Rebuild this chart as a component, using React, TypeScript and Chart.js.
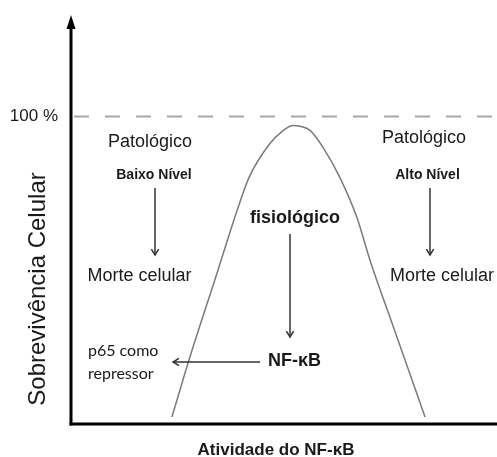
import React, { useEffect, useRef } from "react";
import { Chart, registerables } from "chart.js";

Chart.register(...registerables);

// Curve: NF-κB activity (x, 0-100) vs cell survival (%)
const activity = [23.7, 27.7, 34.5, 39.0, 41.8, 46.7, 49.5, 52.1, 53.8, 56.1, 59.2, 63.1, 67.1, 70.2, 75.7, 83.1];
const survival = [2.3, 20.8, 50.0, 69.5, 80.2, 91.2, 95.1, 97.1, 96.8, 95.5, 89.9, 80.2, 67.2, 53.2, 31.5, 2.3];
const refLineX = [0.7, 100];
const refLineY = [100, 100];
const yTickLabel = "100 %";
const yTitle = "Sobrevivência Celular";
const xTitle = "Atividade do NF-κB";

const SANS = '"Liberation Sans", Arial, sans-serif';

const overlay = {
  id: "overlay",
  afterDraw(chart: any) {
    const { ctx, chartArea } = chart;
    const { left, right, top, bottom } = chartArea;
    const ys = chart.scales.y;
    const ink = "#1a1a1a";
    ctx.save();
    // axes
    ctx.strokeStyle = "#000";
    ctx.fillStyle = "#000";
    ctx.lineWidth = 3;
    ctx.beginPath();
    ctx.moveTo(left, bottom + 1.5);
    ctx.lineTo(left, top + 12);
    ctx.stroke();
    ctx.beginPath();
    ctx.moveTo(left - 1.5, bottom);
    ctx.lineTo(right, bottom);
    ctx.stroke();
    ctx.beginPath();
    ctx.moveTo(left, top);
    ctx.lineTo(left - 4.5, top + 14);
    ctx.lineTo(left + 4.5, top + 14);
    ctx.closePath();
    ctx.fill();

    const text = (s: string, x: number, y: number, font: string, align: CanvasTextAlign = "center") => {
      ctx.font = font;
      ctx.fillStyle = ink;
      ctx.textAlign = align;
      ctx.textBaseline = "middle";
      ctx.fillText(s, x, y);
    };
    text(yTickLabel, 58, ys.getPixelForValue(100), `17px ${SANS}`, "right");
    text("Patológico", 150, 142, `18px ${SANS}`);
    text("Baixo Nível", 154, 175, `bold 14px ${SANS}`);
    text("Morte celular", 139.5, 276, `18px ${SANS}`);
    text("Patológico", 424, 138, `18px ${SANS}`);
    text("Alto Nível", 427.5, 175, `bold 14px ${SANS}`);
    text("Morte celular", 442, 276, `18px ${SANS}`);
    text("fisiológico", 295, 218, `bold 18px ${SANS}`);
    text("NF-κB", 268, 361, `bold 18px ${SANS}`, "left");
    text("p65 como", 88, 351, `16px Lato, "Open Sans", sans-serif`, "left");
    text("repressor", 88, 374, `16px Lato, "Open Sans", sans-serif`, "left");
    text(xTitle, 276, 450, `bold 17px ${SANS}`);
    ctx.save();
    ctx.translate(38, 289);
    ctx.rotate(-Math.PI / 2);
    text(yTitle, 0, 0, `24px ${SANS}`);
    ctx.restore();

    // arrows
    const arrow = (x1: number, y1: number, x2: number, y2: number) => {
      ctx.strokeStyle = "#333";
      ctx.lineWidth = 1.5;
      ctx.beginPath();
      ctx.moveTo(x1, y1);
      ctx.lineTo(x2, y2);
      ctx.stroke();
      const a = Math.atan2(y2 - y1, x2 - x1);
      const L = 7, W = 0.55;
      ctx.beginPath();
      ctx.moveTo(x2 - L * Math.cos(a - W), y2 - L * Math.sin(a - W));
      ctx.lineTo(x2, y2);
      ctx.lineTo(x2 - L * Math.cos(a + W), y2 - L * Math.sin(a + W));
      ctx.stroke();
    };
    arrow(155, 188, 155, 255);
    arrow(430, 188, 430, 255);
    arrow(290, 234, 290, 337);
    arrow(260, 362, 173, 362);
    ctx.restore();
  },
};

export default function App() {
  const ref = useRef<HTMLCanvasElement>(null);
  useEffect(() => {
    document.body.style.margin = "0";
    const chart = new Chart(ref.current!, {
      type: "line",
      data: {
        datasets: [
          {
            data: refLineX.map((x, i) => ({ x, y: refLineY[i] })),
            borderColor: "#a6a6a6",
            borderWidth: 2,
            borderDash: [15, 16],
            pointRadius: 0,
          },
          {
            data: activity.map((x, i) => ({ x, y: survival[i] })),
            borderColor: "#7a7a7a",
            borderWidth: 1.5,
            cubicInterpolationMode: "monotone",
            pointRadius: 0,
          },
        ],
      },
      options: {
        responsive: false,
        animation: false,
        layout: { padding: { left: 71, right: 0, top: 15, bottom: 33 } },
        plugins: { legend: { display: false }, tooltip: { enabled: false } },
        scales: {
          x: { type: "linear", min: 0, max: 100, display: false },
          y: { type: "linear", min: 0, max: 133, display: false },
        },
      },
      plugins: [overlay],
    });
    return () => chart.destroy();
  }, []);
  return <canvas ref={ref} width={497} height={457} style={{ display: "block" }} />;
}
